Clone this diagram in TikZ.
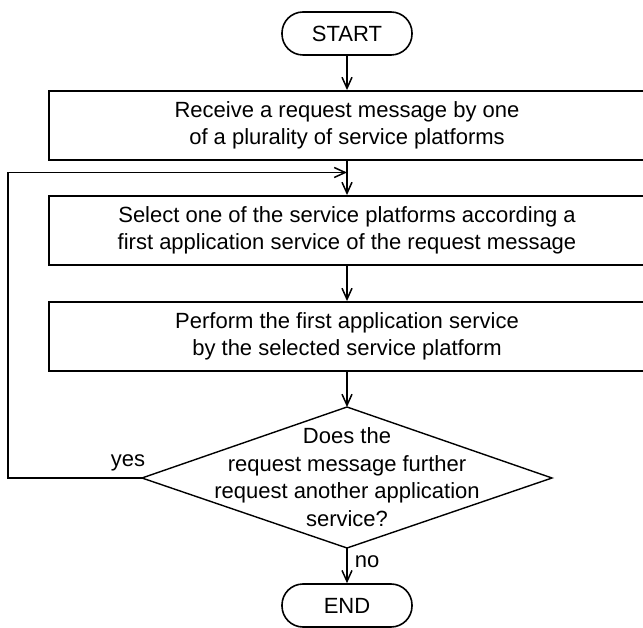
\documentclass[tikz,border=0pt]{standalone}
\usepackage{fontspec}
\setmainfont{Liberation Sans}
\usetikzlibrary{arrows.meta}
\newcommand{\chartfont}{\fontsize{22}{27.5}\selectfont}
\begin{document}
\begin{tikzpicture}[x=1pt,y=-1pt,
  box/.style={draw, line width=1.9pt, minimum width=596pt, minimum height=69pt,
              inner sep=0pt, align=center, font=\chartfont},
  term/.style={draw, line width=1.6pt, rounded corners=21pt, minimum width=130pt,
               minimum height=43pt, inner sep=0pt, font=\chartfont},
  flow/.style={line width=1.9pt, -{Straight Barb[length=11pt,width=10pt,line width=1.5pt]}},
  lbl/.style={inner sep=0pt, font=\chartfont}]
\useasboundingbox (0,0) rectangle (643,628);
\clip (0,0) rectangle (643,628);

% terminals and process boxes
\node[term] (start) at (347,33.5) {START};
\node[box] (recv) at (347,125.5) {Receive a request message by one\\of a plurality of service platforms};
\node[box] (select) at (347,230.5) {Select one of the service platforms according a\\first application service of the request message};
\node[box] (perform) at (347,336.5) {Perform the first application service\\by the selected service platform};
\node[term] (end) at (347,605.5) {END};

% decision diamond
\coordinate (dtop) at (347,407);
\coordinate (dleft) at (142,478);
\coordinate (dright) at (552,478);
\coordinate (dbot) at (347,548);
\draw[line width=1.4pt, line join=miter] (dtop) -- (dright) -- (dbot) -- (dleft) -- cycle;
\node[lbl, align=center] (question) at (347,477)
  {Does the\\request message further\\request another application\\service?};

% connectors
\coordinate (join) at (347,172.5);
\coordinate (loopcorner) at (8,478);
\draw[flow] (start) -- (recv);
\draw[flow] (recv) -- (select);
\draw[flow] (select) -- (perform);
\draw[flow] (perform) -- (dtop);
\draw[flow] (dbot) -- (end);
\draw[flow] (dleft) -- (loopcorner) |- (join);

% branch labels
\node[lbl] (yes) at (128,463) {yes};
\node[lbl] (no) at (367,562) {no};
\end{tikzpicture}
\end{document}
